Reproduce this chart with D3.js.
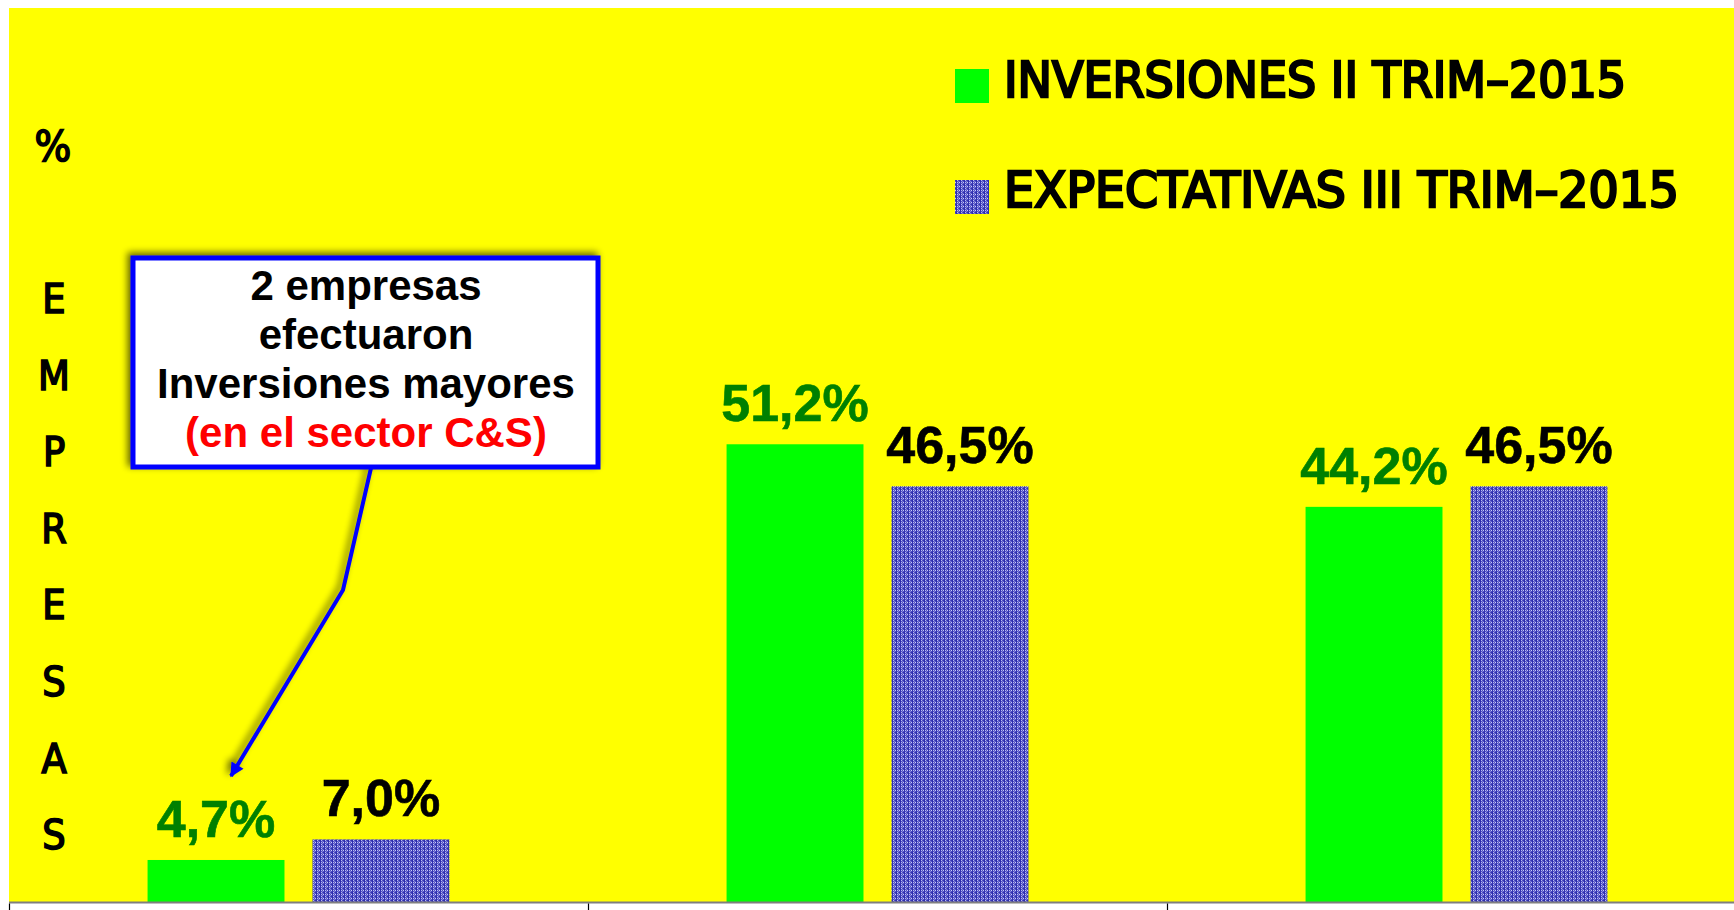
<!DOCTYPE html>
<html>
<head>
<meta charset="utf-8">
<script src="https://cdn.jsdelivr.net/npm/d3@7"></script>
<style>
  html, body { margin: 0; padding: 0; background: #ffffff; }
  svg { display: block; }
</style>
</head>
<body>
<svg id="chart" width="1734" height="910"></svg>
<script>
// ---- data ----
const categories = ["Mayores", "Menores", "Ninguna"];
const seriesNames = ["INVERSIONES II TRIM–2015", "EXPECTATIVAS III TRIM–2015"];
const inversiones = [4.7, 51.2, 44.2];
const expectativas = [7.0, 46.5, 46.5];
const valueLabels1 = ["4,7%", "51,2%", "44,2%"];
const valueLabels2 = ["7,0%", "46,5%", "46,5%"];
const yAxisLetters = ["E", "M", "P", "R", "E", "S", "A", "S"];
const noteLines = ["2 empresas", "efectuaron", "Inversiones mayores"];
const noteRed = "(en el sector C&S)";

const svg = d3.select("#chart");
const defs = svg.append("defs");

// dithered blue pattern
const pat = defs.append("pattern").attr("id", "bluePat").attr("patternUnits", "userSpaceOnUse")
  .attr("width", 4).attr("height", 4);
pat.append("rect").attr("width", 4).attr("height", 4).attr("fill", "#5050c4");
[[0,0,"#2c2cac"],[0,1,"#2c2cac"],[0,2,"#2c2cac"],[0,3,"#3a3ab4"],
 [1,0,"#b8b8f0"],[1,2,"#b8b8f0"],[2,1,"#8080d8"],[2,3,"#8080d8"],
 [3,0,"#3434b0"],[3,2,"#c8c8f6"]]
  .forEach(([x,y,c]) => pat.append("rect").attr("x", x).attr("y", y).attr("width", 1).attr("height", 1).attr("fill", c));

// shadow filter
const f = defs.append("filter").attr("id", "shadow").attr("x", "-20%").attr("y", "-20%").attr("width", "140%").attr("height", "140%");
f.append("feGaussianBlur").attr("in", "SourceAlpha").attr("stdDeviation", 3.5).attr("result", "b");
f.append("feOffset").attr("in", "b").attr("dx", -3).attr("dy", -3).attr("result", "o");
f.append("feComponentTransfer").attr("in", "o").attr("result", "o2")
  .append("feFuncA").attr("type", "linear").attr("slope", 0.6);
const fm = f.append("feMerge");
fm.append("feMergeNode").attr("in", "o2");
fm.append("feMergeNode").attr("in", "SourceGraphic");

defs.append("marker").attr("id", "arrowHead").attr("viewBox", "0 0 10 10")
  .attr("refX", 9).attr("refY", 5).attr("markerWidth", 4.5).attr("markerHeight", 3.5)
  .attr("orient", "auto").attr("markerUnits", "strokeWidth")
  .append("path").attr("d", "M0,0 L10,5 L0,10 z").attr("fill", "#0000ff");

// ---- scales ----
const plotLeft = 9, plotTop = 8, baseY = 902;
const x = d3.scaleBand().domain(categories).range([plotLeft, plotLeft + 579 * 3]).padding(0);
const xSub = d3.scaleBand().domain([0, 1]).range([0, x.bandwidth()]).paddingInner(0.17).paddingOuter(0.84);
const y = d3.scaleLinear().domain([0, 100]).range([baseY, plotTop]);

// background
svg.append("rect").attr("x", plotLeft).attr("y", plotTop).attr("width", 1734 - plotLeft).attr("height", baseY - plotTop)
  .attr("fill", "#ffff00");

// bars
const seriesVals = [inversiones, expectativas];
const seriesFill = ["#00ff00", "url(#bluePat)"];
const labelFill = ["#008000", "#000000"];
const labelTexts = [valueLabels1, valueLabels2];
seriesVals.forEach((vals, s) => {
  svg.append("g").selectAll("rect").data(vals).join("rect")
    .attr("x", (d, i) => x(categories[i]) + xSub(s))
    .attr("y", d => y(d))
    .attr("width", xSub.bandwidth())
    .attr("height", d => baseY - y(d))
    .attr("fill", seriesFill[s]);
  svg.append("g").selectAll("text").data(vals).join("text")
    .attr("x", (d, i) => x(categories[i]) + xSub(s) + xSub.bandwidth() / 2)
    .attr("y", d => y(d) - 23)
    .attr("text-anchor", "middle")
    .attr("font-family", "'Liberation Sans', Arial, sans-serif")
    .attr("font-weight", "bold")
    .attr("font-size", 52)
    .attr("fill", labelFill[s])
    .attr("stroke", labelFill[s]).attr("stroke-width", 0.6)
    .text((d, i) => labelTexts[s][i]);
});

// baseline and ticks
svg.append("line").attr("x1", plotLeft).attr("x2", 1734).attr("y1", baseY + 0.5).attr("y2", baseY + 0.5)
  .attr("stroke", "#7f7f7f").attr("stroke-width", 2);
svg.append("g").selectAll("line").data(categories).join("line")
  .attr("x1", d => Math.round(x(d)) + 0.5).attr("x2", d => Math.round(x(d)) + 0.5)
  .attr("y1", baseY + 1.5).attr("y2", 910)
  .attr("stroke", "#000000").attr("stroke-width", 1.2);

// y-axis title
const axisFont = "'DejaVu Sans Condensed', 'DejaVu Sans', sans-serif";
svg.append("text").attr("x", 53).attr("y", 161).attr("text-anchor", "middle")
  .attr("font-family", axisFont).attr("font-size", 43)
  .attr("stroke", "#000").attr("stroke-width", 1.6).text("%");
svg.append("g").selectAll("text").data(yAxisLetters).join("text")
  .attr("x", 54).attr("y", (d, i) => 313 + i * 76.6)
  .attr("text-anchor", "middle")
  .attr("font-family", axisFont).attr("font-size", 41)
  .attr("stroke", "#000").attr("stroke-width", 1.6)
  .text(d => d);

// legend
const legY = [69, 180];
const legTextY = [97, 207];
const legLen = [622, 675];
seriesNames.forEach((name, s) => {
  svg.append("rect").attr("x", 955).attr("y", legY[s]).attr("width", 34).attr("height", 34).attr("fill", seriesFill[s]);
  svg.append("text").attr("x", 1004).attr("y", legTextY[s])
    .attr("font-family", axisFont).attr("font-size", 50)
    .attr("stroke", "#000").attr("stroke-width", 2.4)
    .attr("textLength", legLen[s]).attr("lengthAdjust", "spacingAndGlyphs")
    .text(name);
});

// annotation
const note = svg.append("g");
note.append("path").attr("d", "M371,468 L343,590 L231,776")
  .attr("fill", "none").attr("stroke", "#0000ff").attr("stroke-width", 4)
  .attr("stroke-linejoin", "miter")
  .attr("marker-end", "url(#arrowHead)")
  .attr("filter", "url(#shadow)");
note.append("rect").attr("x", 133).attr("y", 258).attr("width", 465).attr("height", 209)
  .attr("fill", "#ffffff").attr("stroke", "#0000ff").attr("stroke-width", 5)
  .attr("filter", "url(#shadow)");
const noteAll = noteLines.concat([noteRed]);
note.append("g").selectAll("text").data(noteAll).join("text")
  .attr("x", 366).attr("y", (d, i) => 300 + i * 49)
  .attr("text-anchor", "middle")
  .attr("font-family", "'Liberation Sans', Arial, sans-serif")
  .attr("font-weight", "bold").attr("font-size", 42)
  .attr("fill", (d, i) => i === 3 ? "#ff0000" : "#000000")
  .text(d => d);
</script>
</body>
</html>
